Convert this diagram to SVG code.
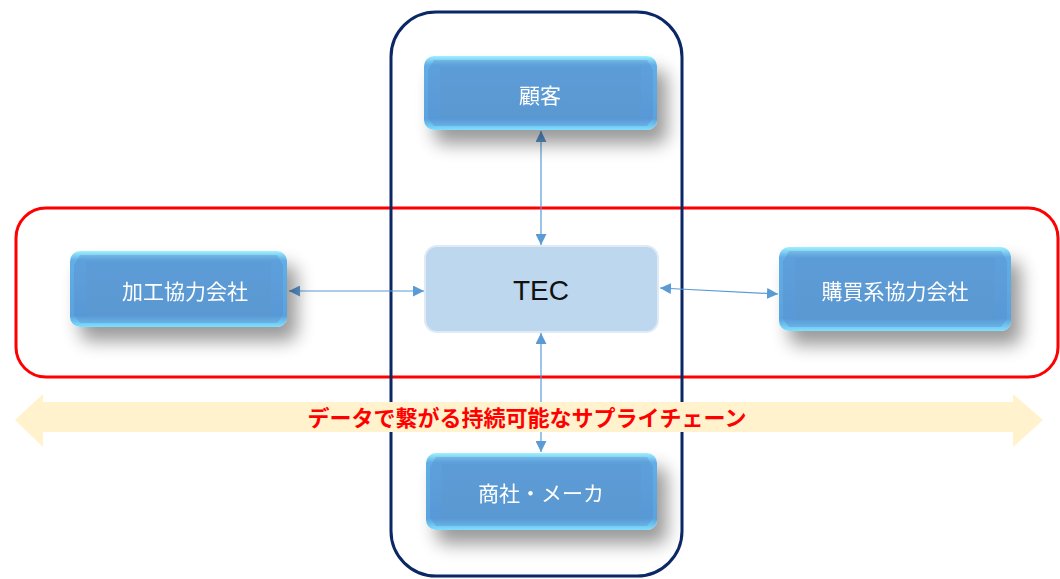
<svg xmlns="http://www.w3.org/2000/svg" width="1060" height="579" viewBox="0 0 1060 579">
<style>
.lbl{font-family:"Noto Sans CJK JP","Noto Sans",sans-serif;font-size:21px;fill:#ffffff;text-anchor:middle;dominant-baseline:central}
.tec{font-family:"Liberation Sans",Arial,sans-serif;font-size:28px;fill:#111;text-anchor:middle;dominant-baseline:central}
.conn{stroke:#5b9bd5;stroke-width:1.2;fill:none;marker-start:url(#ah);marker-end:url(#ah)}
.band{font-family:"Noto Sans CJK JP",sans-serif;font-size:22px;font-weight:bold;fill:#ff0000;text-anchor:middle;dominant-baseline:central}
</style>
<defs>
<marker id="ah" viewBox="0 0 10 10" refX="10" refY="5" markerWidth="11" markerHeight="11" markerUnits="userSpaceOnUse" orient="auto-start-reverse">
<path d="M0,0 L10,5 L0,10 z" fill="#5b9bd5"/>
</marker>
<linearGradient id="edge" x1="0" y1="0" x2="0" y2="1">
<stop offset="0" stop-color="#9ff0ff"/>
<stop offset="0.12" stop-color="#62aee6"/>
<stop offset="0.85" stop-color="#5aa2de"/>
<stop offset="1" stop-color="#7fe0ff"/>
</linearGradient>
<linearGradient id="face" x1="0" y1="0" x2="0" y2="1">
<stop offset="0" stop-color="#5c9cd6"/>
<stop offset="1" stop-color="#5a98d2"/>
</linearGradient>
<filter id="sh" x="-20%" y="-30%" width="150%" height="200%">
<feGaussianBlur in="SourceAlpha" stdDeviation="9"/>
<feOffset dx="10" dy="14" result="b"/>
<feComponentTransfer><feFuncA type="linear" slope="0.4"/></feComponentTransfer>
<feMerge><feMergeNode/><feMergeNode in="SourceGraphic"/></feMerge>
</filter>
</defs>
<rect width="1060" height="579" fill="#ffffff"/>
<g id="frame-red"><rect x="16" y="208" width="1042" height="169" rx="30" fill="none" stroke="#ff0000" stroke-width="3"/></g>
<g id="frame-navy"><rect x="391" y="12" width="291" height="564" rx="45" fill="none" stroke="#0b2766" stroke-width="3"/></g>
<g id="connectors">
<line class="conn" x1="541" y1="131" x2="541" y2="245"/>
<line class="conn" x1="289" y1="291" x2="424" y2="291"/>
<line class="conn" x1="660" y1="288" x2="778" y2="294"/>
<line class="conn" x1="541" y1="333" x2="541" y2="452"/>
</g>
<g id="band">
<polygon points="15,420 43,394 43,402 1013,402 1013,394 1043,420 1013,447 1013,432 43,432 43,447" fill="#fff2cc"/>
<text class="band" x="527" y="416">データで繋がる持続可能なサプライチェーン</text>
</g>
<g id="n-kokyaku" filter="url(#sh)">
<rect x="424" y="56" width="233" height="74" rx="10" fill="url(#edge)"/>
<path d="M434,60 L647,60 L653,70 L653,118 L647,126 L434,126 L428,118 L428,70 z" fill="#5588c8" opacity="0.35"/>
<rect x="440" y="67" width="201" height="52" fill="url(#face)"/>
<text class="lbl" x="540" y="94">顧客</text>
</g>
<g id="n-kako" filter="url(#sh)">
<rect x="70" y="251" width="217" height="76" rx="10" fill="url(#edge)"/>
<path d="M80,255 L277,255 L283,265 L283,315 L277,323 L80,323 L74,315 L74,265 z" fill="#5588c8" opacity="0.35"/>
<rect x="86" y="262" width="185" height="54" fill="url(#face)"/>
<text class="lbl" x="185" y="290">加工協力会社</text>
</g>
<g id="n-tec">
<rect x="425" y="246" width="233" height="86" rx="12" fill="#bdd7ee" stroke="#deeaf6" stroke-width="2"/>
<text class="tec" x="541" y="290">TEC</text>
</g>
<g id="n-kobai" filter="url(#sh)">
<rect x="779" y="247" width="232" height="84" rx="10" fill="url(#edge)"/>
<path d="M789,251 L1001,251 L1007,261 L1007,319 L1001,327 L789,327 L783,319 L783,261 z" fill="#5588c8" opacity="0.35"/>
<rect x="795" y="258" width="200" height="62" fill="url(#face)"/>
<text class="lbl" x="895" y="290">購買系協力会社</text>
</g>
<g id="n-shosha" filter="url(#sh)">
<rect x="426" y="453" width="231" height="77" rx="10" fill="url(#edge)"/>
<path d="M436,457 L647,457 L653,467 L653,518 L647,526 L436,526 L430,518 L430,467 z" fill="#5588c8" opacity="0.35"/>
<rect x="442" y="464" width="199" height="55" fill="url(#face)"/>
<text class="lbl" x="541" y="492">商社・メーカ</text>
</g>
</svg>
